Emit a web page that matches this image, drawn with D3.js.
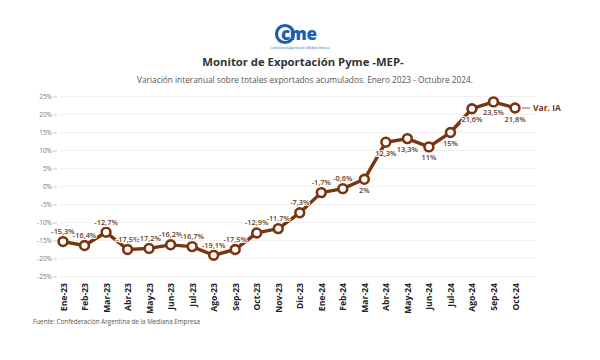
<!DOCTYPE html>
<html><head><meta charset="utf-8">
<script src="https://cdn.jsdelivr.net/npm/d3@7"></script>
<style>body{margin:0;background:#fff}svg{display:block}</style>
</head><body>
<svg id="c" width="600" height="360"></svg>
<script>
const categories = ["Ene-23","Feb-23","Mar-23","Abr-23","May-23","Jun-23","Jul-23","Ago-23","Sep-23","Oct-23","Nov-23","Dic-23","Ene-24","Feb-24","Mar-24","Abr-24","May-24","Jun-24","Jul-24","Ago-24","Sep-24","Oct-24"];
const values = [-15.3,-16.4,-12.7,-17.5,-17.2,-16.2,-16.7,-19.1,-17.5,-12.9,-11.7,-7.3,-1.7,-0.6,2,12.3,13.3,11,15,21.6,23.5,21.8];
const labelBelow = [false,false,false,false,false,false,false,false,false,false,false,false,false,false,true,true,true,true,true,true,true,true];
const yTicks = [-25,-20,-15,-10,-5,0,5,10,15,20,25];
const seriesName = "Var. IA";
const title = "Monitor de Exportación Pyme -MEP-";
const subtitle = "Variación interanual sobre totales exportados acumulados. Enero 2023 - Octubre 2024.";
const source = "Fuente: Confederación Argentina de la Mediana Empresa";

const svg = d3.select("#c");
const font = "'Open Sans', 'Noto Sans', sans-serif";
const brown = "#7a3510";

const x = d3.scalePoint().domain(categories).range([63, 515]);
const y = d3.scaleLinear().domain([-25, 25]).range([276.5, 96.5]);

// logo
const logo = svg.append("g");
logo.append("circle").attr("cx", 285).attr("cy", 34).attr("r", 8.5).attr("fill", "none").attr("stroke", "#1b5fb3").attr("stroke-width", 3.2);
logo.append("text").attr("x", 281).attr("y", 40).attr("font-family", font).attr("font-weight", 800).attr("font-size", 17).attr("fill", "#1b5fb3").attr("letter-spacing", -0.3).text("cme");
logo.append("text").attr("x", 300).attr("y", 49).attr("text-anchor", "middle").attr("font-family", font).attr("font-size", 2.6).attr("fill", "#1b5fb3").text("Confederación Argentina de la Mediana Empresa");

svg.append("text").attr("x", 303).attr("y", 66).attr("text-anchor", "middle").attr("font-family", font).attr("font-weight", 700).attr("font-size", 11.3).attr("fill", "#333").text(title);
svg.append("text").attr("x", 305).attr("y", 83).attr("text-anchor", "middle").attr("font-family", font).attr("font-size", 8.3).attr("fill", "#555").text(subtitle);

// grid + y axis
const yAxis = d3.axisLeft(y).tickValues(yTicks).tickSize(4).tickFormat(d => d + "%");
const ga = svg.append("g").attr("transform", "translate(57,0)").call(yAxis);
ga.select(".domain").remove();
ga.selectAll("line").attr("stroke", "#ccc");
ga.selectAll("text").attr("font-family", font).attr("font-size", 6.5).attr("fill", "#777").attr("x", -5);
svg.append("g").selectAll("line").data(yTicks).join("line")
  .attr("x1", 60).attr("x2", 535).attr("y1", d => y(d)).attr("y2", d => y(d))
  .attr("stroke", "#ececec").attr("stroke-width", 0.8);

// x axis labels
const xAxis = d3.axisBottom(x).tickSize(0);
const gx = svg.append("g").attr("transform", "translate(0,282)").call(xAxis);
gx.select(".domain").remove();
gx.selectAll(".tick text").attr("font-family", font).attr("font-weight", 700).attr("font-size", 8.6).attr("fill", "#222")
  .attr("transform", "rotate(-90)").attr("text-anchor", "end").attr("x", -1).attr("y", 0).attr("dy", "0.35em");

// line
const data = categories.map((c, i) => ({c, v: values[i], below: labelBelow[i]}));
svg.append("path").datum(data)
  .attr("fill", "none").attr("stroke", brown).attr("stroke-width", 3.4).attr("stroke-linejoin", "round")
  .attr("d", d3.line().x(d => x(d.c)).y(d => y(d.v)));
svg.append("g").selectAll("circle").data(data).join("circle")
  .attr("cx", d => x(d.c)).attr("cy", d => y(d.v)).attr("r", 4.4)
  .attr("fill", "#fff").attr("stroke", brown).attr("stroke-width", 2.6);

// value labels
svg.append("g").selectAll("text").data(data).join("text")
  .attr("x", d => x(d.c)).attr("y", d => y(d.v) + (d.below ? 13.5 : -7.5))
  .attr("text-anchor", "middle").attr("font-family", font).attr("font-size", 7.4).attr("font-weight", 600)
  .attr("fill", "#6b3a1c").attr("stroke", "#fff").attr("stroke-width", 2).attr("paint-order", "stroke")
  .text(d => String(d.v).replace(".", ",") + "%");

// series label
const last = data[data.length - 1];
svg.append("line").attr("x1", x(last.c) + 7).attr("x2", x(last.c) + 15).attr("y1", y(last.v)).attr("y2", y(last.v)).attr("stroke", brown).attr("stroke-width", 0.8);
svg.append("text").attr("x", x(last.c) + 18).attr("y", y(last.v) + 3).attr("font-family", font).attr("font-weight", 700).attr("font-size", 8.5).attr("fill", brown).text(seriesName);

svg.append("text").attr("x", 33).attr("y", 324).attr("font-family", font).attr("font-size", 6.3).attr("fill", "#555").text(source);
</script>
</body></html>
